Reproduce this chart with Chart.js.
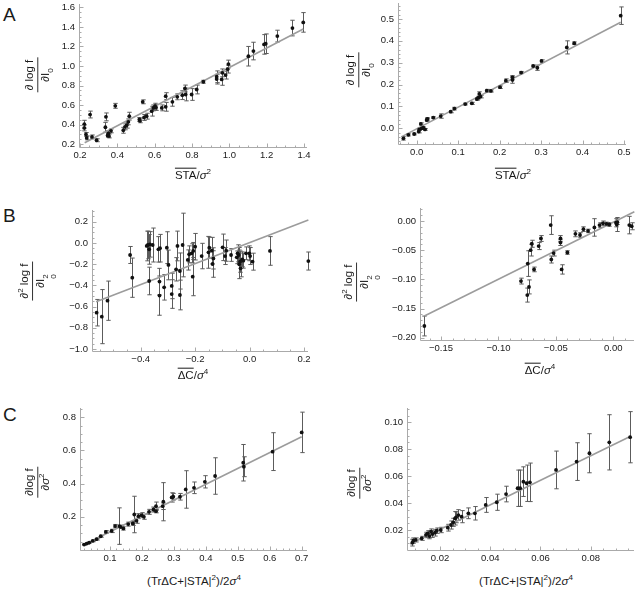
<!DOCTYPE html>
<html><head><meta charset="utf-8">
<script src="https://cdn.jsdelivr.net/npm/chart.js@4.4.0/dist/chart.umd.min.js"></script>
<style>
body{margin:0;background:#fff;width:638px;height:589px;position:relative;overflow:hidden;font-family:"Liberation Sans",Arial,sans-serif;color:#1a1a1a}
canvas{position:absolute}
.lbl{position:absolute;white-space:nowrap;transform:translate(-50%,-50%);font-size:11.5px;line-height:1.1}
.letter{position:absolute;font-size:19px;line-height:1}
.ov{text-decoration:overline}
.yt{position:absolute;transform:translate(-50%,-50%) rotate(-90deg);font-size:11.5px;white-space:nowrap}
.frac{display:inline-flex;flex-direction:column;align-items:center;line-height:1.15}
.num{border-bottom:1px solid #333;padding:0 2px 1px 2px}
.den{padding-top:1px}
sub,sup{font-size:70%;line-height:0}
.ss{display:inline-flex;flex-direction:column;font-size:70%;line-height:1;vertical-align:-0.45em}
</style></head><body>
<script>
// ---------- Panel A (left) ----------
const aLeftX   = [0.223,0.223,0.232,0.236,0.254,0.264,0.289,0.336,0.339,0.348,0.352,0.355,0.366,0.389,0.432,0.441,0.45,0.459,0.464,0.518,0.521,0.536,0.543,0.557,0.584,0.593,0.602,0.607,0.638,0.659,0.659,0.695,0.721,0.748,0.762,0.766,0.798,0.825,0.861,0.932,0.932,0.959,0.963,0.98,0.991,0.995,1.102,1.129,1.186,1.195,1.257,1.338,1.396];
const aLeftY   = [0.405,0.367,0.30,0.265,0.504,0.275,0.241,0.374,0.48,0.29,0.31,0.285,0.337,0.593,0.343,0.378,0.395,0.429,0.487,0.453,0.44,0.634,0.474,0.487,0.538,0.572,0.589,0.576,0.572,0.692,0.583,0.634,0.685,0.702,0.77,0.709,0.709,0.76,0.839,0.89,0.866,0.863,0.93,0.907,0.968,1.02,1.10,1.153,1.221,1.228,1.306,1.388,1.446];
const aLeftErr = [0.04,0.03,0.02,0.02,0.035,0.02,0.015,0.05,0.04,0.02,0.03,0.02,0.02,0.025,0.03,0.03,0.03,0.03,0.04,0.02,0.02,0.02,0.03,0.03,0.05,0.03,0.03,0.03,0.03,0.035,0.045,0.045,0.03,0.045,0.035,0.065,0.06,0.045,0.015,0.06,0.05,0.06,0.04,0.04,0.04,0.04,0.10,0.09,0.10,0.10,0.06,0.08,0.10];
const aLeftFitX = [0.225,1.396];
const aLeftFitY = [0.216,1.378];
const aLeftXTicks = [0.2,0.4,0.6,0.8,1.0,1.2,1.4];
const aLeftYTicks = [0.2,0.4,0.6,0.8,1.0,1.2,1.4,1.6];

// ---------- Panel A (right) ----------
const aRightX   = [-0.032,-0.020,-0.006,0.005,0.006,0.010,0.012,0.016,0.020,0.024,0.026,0.040,0.058,0.082,0.091,0.117,0.133,0.145,0.149,0.154,0.151,0.169,0.179,0.201,0.215,0.231,0.231,0.252,0.281,0.291,0.301,0.362,0.380,0.492];
const aRightY   = [-0.046,-0.030,-0.026,-0.015,-0.005,0.020,0.000,0.003,-0.005,0.038,0.043,0.049,0.056,0.076,0.090,0.111,0.114,0.134,0.140,0.145,0.157,0.172,0.171,0.188,0.218,0.221,0.233,0.255,0.285,0.277,0.308,0.370,0.389,0.515];
const aRightErr = [0.008,0.005,0.004,0.006,0.005,0.005,0.004,0.004,0.004,0.006,0.006,0.004,0.010,0.005,0.006,0.004,0.005,0.006,0.006,0.006,0.010,0.006,0.005,0.006,0.008,0.015,0.008,0.005,0.004,0.012,0.005,0.030,0.006,0.040];
const aRightFitX = [-0.036,0.492];
const aRightFitY = [-0.038,0.485];
const aRightXTicks = [0.0,0.1,0.2,0.3,0.4,0.5];
const aRightYTicks = [0.0,0.1,0.2,0.3,0.4,0.5];

// ---------- Panel B (left) ----------
const bLeftX   = [-0.562,-0.543,-0.522,-0.439,-0.431,-0.378,-0.374,-0.369,-0.366,-0.369,-0.356,-0.335,-0.329,-0.331,-0.331,-0.314,-0.304,-0.298,-0.286,-0.286,-0.270,-0.265,-0.256,-0.256,-0.246,-0.227,-0.222,-0.213,-0.209,-0.207,-0.200,-0.176,-0.151,-0.148,-0.139,-0.136,-0.133,-0.099,-0.090,-0.086,-0.068,-0.047,-0.044,-0.040,-0.038,-0.035,-0.033,-0.027,-0.023,-0.013,-0.001,0.002,0.011,0.075,0.216];
const bLeftY   = [-0.658,-0.695,-0.545,-0.114,-0.328,-0.029,-0.020,-0.061,-0.014,-0.359,-0.020,-0.061,-0.050,-0.365,-0.497,-0.419,-0.045,-0.208,-0.406,-0.482,-0.249,-0.029,-0.265,-0.491,-0.020,-0.161,-0.108,-0.098,-0.318,-0.076,-0.036,-0.124,-0.089,-0.045,-0.073,-0.199,-0.146,-0.042,-0.124,-0.073,-0.114,-0.136,-0.098,-0.114,-0.202,-0.177,-0.240,-0.155,-0.168,-0.098,-0.098,-0.124,-0.177,-0.076,-0.171];
const bLeftErr = [0.125,0.255,0.185,0.08,0.185,0.14,0.13,0.14,0.12,0.13,0.16,0.12,0.13,0.125,0.185,0.12,0.15,0.14,0.12,0.135,0.11,0.14,0.17,0.14,0.30,0.095,0.08,0.09,0.18,0.08,0.125,0.12,0.15,0.10,0.125,0.125,0.10,0.125,0.08,0.10,0.06,0.06,0.08,0.07,0.135,0.10,0.08,0.07,0.07,0.06,0.07,0.08,0.08,0.135,0.085];
const bLeftFitX = [-0.564,0.216];
const bLeftFitY = [-0.554,0.216];
const bLeftXTicks = [-0.4,-0.2,0.0,0.2];
const bLeftYTicks = [-1.0,-0.8,-0.6,-0.4,-0.2,0.0,0.2];

// ---------- Panel B (right) ----------
const bRightX   = [-0.1645,-0.0804,-0.0749,-0.0734,-0.0745,-0.072,-0.071,-0.069,-0.065,-0.063,-0.0545,-0.054,-0.052,-0.046,-0.046,-0.045,-0.040,-0.033,-0.029,-0.026,-0.022,-0.0165,-0.012,-0.009,-0.006,-0.0035,0.0023,0.003,0.0035,0.0139,0.016];
const bRightY   = [-0.180,-0.103,-0.127,-0.113,-0.073,-0.050,-0.039,-0.083,-0.043,-0.030,-0.007,-0.066,-0.055,-0.030,-0.037,-0.083,-0.054,-0.022,-0.024,-0.014,-0.017,-0.011,-0.007,-0.004,-0.005,-0.006,-0.003,-0.006,-0.002,-0.007,-0.009];
const bRightErr = [0.017,0.005,0.012,0.012,0.022,0.010,0.006,0.004,0.006,0.005,0.016,0.006,0.005,0.005,0.005,0.008,0.003,0.005,0.004,0.004,0.003,0.015,0.004,0.004,0.003,0.003,0.007,0.012,0.004,0.015,0.006];
const bRightFitX = [-0.1645,0.0183];
const bRightFitY = [-0.163,0.016];
const bRightXTicks = [-0.15,-0.10,-0.05,0.00];
const bRightYTicks = [-0.20,-0.15,-0.10,-0.05,0.00];

// ---------- Panel C (left) ----------
const cLeftX   = [0.019,0.027,0.035,0.046,0.058,0.071,0.087,0.105,0.116,0.129,0.133,0.142,0.157,0.171,0.183,0.176,0.189,0.199,0.206,0.222,0.236,0.244,0.244,0.267,0.265,0.293,0.298,0.319,0.337,0.363,0.397,0.429,0.517,0.519,0.609,0.700];
const cLeftY   = [0.033,0.039,0.045,0.055,0.065,0.083,0.109,0.115,0.144,0.144,0.140,0.130,0.156,0.160,0.176,0.214,0.204,0.210,0.200,0.230,0.244,0.264,0.234,0.291,0.264,0.317,0.321,0.321,0.365,0.375,0.411,0.446,0.526,0.502,0.593,0.709];
const cLeftErr = [0.003,0.004,0.004,0.005,0.005,0.006,0.008,0.010,0.010,0.110,0.010,0.010,0.012,0.012,0.015,0.110,0.015,0.015,0.015,0.015,0.015,0.025,0.010,0.115,0.020,0.028,0.020,0.020,0.113,0.035,0.037,0.110,0.110,0.060,0.114,0.122];
const cLeftFitX = [0.015,0.700];
const cLeftFitY = [0.029,0.683];
const cLeftXTicks = [0.1,0.2,0.3,0.4,0.5,0.6,0.7];
const cLeftYTicks = [0.2,0.4,0.6,0.8];

// ---------- Panel C (right) ----------
const cRightX   = [0.0090,0.0094,0.0103,0.0127,0.0144,0.0151,0.0158,0.0164,0.0170,0.0180,0.0187,0.0203,0.0231,0.0244,0.0253,0.0260,0.0264,0.0273,0.0286,0.0313,0.0339,0.0382,0.0426,0.0463,0.0509,0.0519,0.0532,0.0545,0.0558,0.0662,0.0744,0.0795,0.0874,0.0957];
const cRightY   = [0.0106,0.0121,0.0126,0.0138,0.0163,0.0175,0.0155,0.0188,0.0170,0.0180,0.0195,0.0200,0.0217,0.0237,0.0257,0.0287,0.0294,0.0311,0.0299,0.0324,0.0324,0.0386,0.0406,0.0467,0.0510,0.0510,0.0559,0.0547,0.0554,0.0646,0.0708,0.0770,0.0851,0.0889];
const cRightErr = [0.0025,0.002,0.0015,0.0015,0.002,0.002,0.002,0.002,0.0025,0.0025,0.002,0.002,0.0025,0.003,0.003,0.005,0.004,0.004,0.0045,0.004,0.005,0.0055,0.006,0.0058,0.0135,0.0135,0.011,0.0135,0.0143,0.014,0.014,0.0145,0.0205,0.019];
const cRightFitX = [0.0081,0.0957];
const cRightFitY = [0.0096,0.0894];
const cRightXTicks = [0.02,0.04,0.06,0.08];
const cRightYTicks = [0.02,0.04,0.06,0.08,0.10];

// ---------- layout (positions / styles only) ----------
const FONT = '"Liberation Sans", Arial, sans-serif';
const PADL = 50, PADT = 10, PADR = 16, PADB = 22;

function fmt(v, dec) {
  const s = Math.abs(v).toFixed(dec);
  return (v < -1e-12 ? '\u2212' : '') + s;
}

function makePanel(cfg, xs, ys, errs, fitX, fitY, xTicks, yTicks) {
  const cv = document.createElement('canvas');
  const w = cfg.r - cfg.l + PADL + PADR, h = cfg.b - cfg.t + PADT + PADB;
  cv.width = w; cv.height = h;
  cv.style.left = (cfg.l - PADL) + 'px';
  cv.style.top = (cfg.t - PADT) + 'px';
  cv.style.width = w + 'px'; cv.style.height = h + 'px';
  document.body.appendChild(cv);

  const pts = xs.map((x, i) => ({x: x, y: ys[i]}));
  const fit = fitX.map((x, i) => ({x: x, y: fitY[i]}));

  const plugin = {
    id: 'errAxes',
    beforeDatasetsDraw(chart) {
      const ctx = chart.ctx, sx = chart.scales.x, sy = chart.scales.y;
      ctx.save();
      ctx.strokeStyle = '#5c5c5c';
      ctx.lineWidth = 1;
      pts.forEach((p, i) => {
        const px = Math.round(sx.getPixelForValue(p.x)) + 0.5;
        const y1 = sy.getPixelForValue(p.y - errs[i]);
        const y2 = sy.getPixelForValue(p.y + errs[i]);
        ctx.beginPath();
        ctx.moveTo(px, y1); ctx.lineTo(px, y2);
        ctx.moveTo(px - 2.2, y1); ctx.lineTo(px + 2.2, y1);
        ctx.moveTo(px - 2.2, y2); ctx.lineTo(px + 2.2, y2);
        ctx.stroke();
      });
      ctx.restore();
    },
    afterDraw(chart) {
      const ctx = chart.ctx, sx = chart.scales.x, sy = chart.scales.y;
      const a = chart.chartArea;
      ctx.save();
      ctx.strokeStyle = '#aaaaaa';
      ctx.lineWidth = 1;
      const L = Math.round(a.left) + 0.5, B = Math.round(a.bottom) + 0.5;
      ctx.beginPath();
      ctx.moveTo(L, a.top); ctx.lineTo(L, B);
      ctx.moveTo(L, B); ctx.lineTo(a.right, B);
      // x ticks
      const drawTicks = (scale, step, majors, horiz) => {
        const n0 = Math.ceil(scale.min / step - 1e-9), n1 = Math.floor(scale.max / step + 1e-9);
        for (let n = n0; n <= n1; n++) {
          const v = n * step;
          const isMajor = majors.some(m => Math.abs(m - v) < step * 0.01);
          if (isMajor) continue;
          const p = Math.round(scale.getPixelForValue(v)) + 0.5;
          if (horiz) { ctx.moveTo(p, B); ctx.lineTo(p, B - 2); }
          else { ctx.moveTo(L, p); ctx.lineTo(L + 2, p); }
        }
        majors.forEach(m => {
          const p = Math.round(scale.getPixelForValue(m)) + 0.5;
          if (horiz) { ctx.moveTo(p, B); ctx.lineTo(p, B - 4); }
          else { ctx.moveTo(L, p); ctx.lineTo(L + 4, p); }
        });
      };
      drawTicks(sx, cfg.xMinor, xTicks, true);
      drawTicks(sy, cfg.yMinor, yTicks, false);
      ctx.stroke();
      ctx.restore();
    }
  };

  new Chart(cv, {
    type: 'scatter',
    data: {
      datasets: [
        {data: pts, backgroundColor: '#111', borderWidth: 0, pointRadius: 1.9, pointHoverRadius: 1.9, clip: false},
        {type: 'line', data: fit, showLine: true, borderColor: '#9c9c9c', borderWidth: 1.6, pointRadius: 0, fill: false, clip: false}
      ]
    },
    options: {
      responsive: false, animation: false, devicePixelRatio: 1,
      layout: {padding: {left: 0, top: PADT, right: PADR, bottom: 0}},
      plugins: {legend: {display: false}, tooltip: {enabled: false}},
      events: [],
      scales: {
        x: {
          type: 'linear', min: cfg.xMin, max: cfg.xMax,
          grid: {display: false, drawTicks: false}, border: {display: false},
          afterFit: s => { s.height = PADB; },
          afterBuildTicks: s => { s.ticks = xTicks.map(v => ({value: v})); },
          ticks: {autoSkip: false, maxRotation: 0, minRotation: 0, padding: 3, color: '#1a1a1a',
            font: {family: FONT, size: 9.5}, callback: v => fmt(v, cfg.xDec)}
        },
        y: {
          type: 'linear', min: cfg.yMin, max: cfg.yMax,
          grid: {display: false, drawTicks: false}, border: {display: false},
          afterFit: s => { s.width = PADL; },
          afterBuildTicks: s => { s.ticks = yTicks.map(v => ({value: v})); },
          ticks: {autoSkip: false, padding: 4, color: '#1a1a1a',
            font: {family: FONT, size: 9.5}, callback: v => fmt(v, cfg.yDec)}
        }
      }
    },
    plugins: [plugin]
  });
}

makePanel({l:79,t:4,r:307,b:147,xMin:0.1946,xMax:1.416,yMin:0.172,yMax:1.634,xMinor:0.05,yMinor:0.05,xDec:1,yDec:1},
  aLeftX, aLeftY, aLeftErr, aLeftFitX, aLeftFitY, aLeftXTicks, aLeftYTicks);
makePanel({l:398,t:3,r:626,b:144,xMin:-0.0451,xMax:0.5048,yMin:-0.0718,yMax:0.573,xMinor:0.02,yMinor:0.02,xDec:1,yDec:1},
  aRightX, aRightY, aRightErr, aRightFitX, aRightFitY, aRightXTicks, aRightYTicks);
makePanel({l:92,t:210,r:308,b:351,xMin:-0.579,xMax:0.2147,yMin:-1.019,yMax:0.31,xMinor:0.05,yMinor:0.05,xDec:1,yDec:1},
  bLeftX, bLeftY, bLeftErr, bLeftFitX, bLeftFitY, bLeftXTicks, bLeftYTicks);
makePanel({l:420,t:208,r:634,b:340,xMin:-0.1683,xMax:0.018,yMin:-0.204,yMax:0.0223,xMinor:0.01,yMinor:0.01,xDec:2,yDec:2},
  bRightX, bRightY, bRightErr, bRightFitX, bRightFitY, bRightXTicks, bRightYTicks);
makePanel({l:80,t:408,r:307,b:550,xMin:0.0061,xMax:0.7166,yMin:0.0,yMax:0.856,xMinor:0.02,yMinor:0.05,xDec:1,yDec:1},
  cLeftX, cLeftY, cLeftErr, cLeftFitX, cLeftFitY, cLeftXTicks, cLeftYTicks);
makePanel({l:407,t:408,r:634,b:550,xMin:0.00686,xMax:0.09724,yMin:0.00514,yMax:0.1106,xMinor:0.005,yMinor:0.005,xDec:2,yDec:2},
  cRightX, cRightY, cRightErr, cRightFitX, cRightFitY, cRightXTicks, cRightYTicks);
</script>

<div class="letter" style="left:3px;top:5px">A</div>
<div class="letter" style="left:3px;top:206px">B</div>
<div class="letter" style="left:3px;top:405px">C</div>

<div class="lbl" style="left:193px;top:175px"><span class="ov">STA</span>/<i>σ</i><sup>2</sup></div>
<div class="lbl" style="left:513px;top:175px"><span class="ov">STA</span>/<i>σ</i><sup>2</sup></div>
<div class="lbl" style="left:193px;top:375px"><span class="ov">ΔC</span>/<i>σ</i><sup>4</sup></div>
<div class="lbl" style="left:540px;top:370px"><span class="ov">ΔC</span>/<i>σ</i><sup>4</sup></div>
<div class="lbl" style="left:194px;top:581px">(TrΔC+|STA|<sup>2</sup>)/2<i>σ</i><sup>4</sup></div>
<div class="lbl" style="left:526px;top:581px">(TrΔC+|STA|<sup>2</sup>)/2<i>σ</i><sup>4</sup></div>

<div class="yt" style="left:38px;top:75px"><span class="frac"><span class="num">∂ log f</span><span class="den">∂I<sub>0</sub></span></span></div>
<div class="yt" style="left:359px;top:70px"><span class="frac"><span class="num">∂ log f</span><span class="den">∂I<sub>0</sub></span></span></div>
<div class="yt" style="left:38px;top:281px"><span class="frac"><span class="num">∂<sup>2</sup> log f</span><span class="den">∂I<span class="ss"><span>2</span><span>0</span></span></span></span></div>
<div class="yt" style="left:362px;top:282px"><span class="frac"><span class="num">∂<sup>2</sup> log f</span><span class="den">∂I<span class="ss"><span>2</span><span>0</span></span></span></span></div>
<div class="yt" style="left:38px;top:482px"><span class="frac"><span class="num">∂log f</span><span class="den">∂<i>σ</i><sup>2</sup></span></span></div>
<div class="yt" style="left:360px;top:483px"><span class="frac"><span class="num">∂log f</span><span class="den">∂<i>σ</i><sup>2</sup></span></span></div>
</body></html>
